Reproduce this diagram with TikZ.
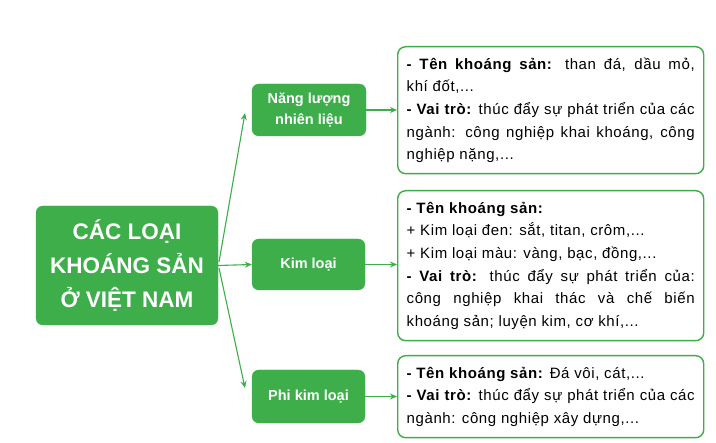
\documentclass[tikz,border=0pt]{standalone}
\usepackage{fontspec}
\setmainfont{Liberation Sans}
\newfontfamily\wfont[LetterSpace=4]{Liberation Sans}
\usetikzlibrary{arrows.meta}
\definecolor{kgreen}{HTML}{3DAE4A}
\begin{document}
\begin{tikzpicture}[x=1pt,y=-1pt,
  gbox/.style={fill=kgreen,draw=kgreen,rounded corners=7pt,text=white,font=\bfseries\fontsize{14.5}{21}\selectfont,align=center,inner sep=0pt},
  wbox/.style={draw=kgreen,line width=1.4pt,rounded corners=8pt,fill=white,align=justify,font=\wfont\fontsize{15}{22.6}\selectfont,inner xsep=9pt,inner ysep=0pt,anchor=north west,text width=288pt},
  conn/.style={draw=kgreen,line width=1.1pt,-{Stealth[length=7pt,width=6pt]}}]
\useasboundingbox (0,0) rectangle (716,443);
\node[gbox,minimum width=182pt,minimum height=119pt,font=\bfseries\fontsize{22.5}{34}\selectfont] (main) at (127,265.5) {CÁC LOẠI\\KHOÁNG SẢN\\Ở VIỆT NAM};
\node[gbox,minimum width=114pt,minimum height=52pt] (nl) at (309,110) {Năng lượng\\nhiên liệu};
\node[gbox,minimum width=113pt,minimum height=51pt] (kl) at (308.5,264.5) {Kim loại};
\node[gbox,minimum width=113pt,minimum height=53pt] (pk) at (308.5,396.5) {Phi kim loại};
\node[wbox,minimum width=306pt,minimum height=127pt] (b1) at (397,46) {\textbf{- Tên khoáng sản:} than đá, dầu mỏ,\linebreak khí đốt,...\\\textbf{- Vai trò:} thúc đẩy sự phát triển của các ngành: công nghiệp khai khoáng, công nghiệp nặng,...};
\node[wbox,minimum width=306pt,minimum height=150pt] (b2) at (397,190) {\textbf{- Tên khoáng sản:}\\+ Kim loại đen: sắt, titan, crôm,...\\+ Kim loại màu: vàng, bạc, đồng,...\\\textbf{- Vai trò:} thúc đẩy sự phát triển của: công nghiệp khai thác và chế biến khoáng sản; luyện kim, cơ khí,...};
\node[wbox,minimum width=306pt,minimum height=82pt] (b3) at (397,355) {\textbf{- Tên khoáng sản:} Đá vôi, cát,...\\\textbf{- Vai trò:} thúc đẩy sự phát triển của các ngành: công nghiệp xây dựng,...};
\coordinate (s1) at (219,262);
\coordinate (s3) at (219,268);
\coordinate (t1) at (245,113);
\coordinate (t3) at (245,388);
\draw[conn] (s1) -- (t1);
\draw[conn] (main.east) -- (kl.west);
\draw[conn] (s3) -- (t3);
\draw[conn] (nl.east) -- (b1.west |- nl.east);
\draw[conn] (kl.east) -- (b2.west |- kl.east);
\draw[conn] (pk.east) -- (b3.west |- pk.east);
\end{tikzpicture}
\end{document}
